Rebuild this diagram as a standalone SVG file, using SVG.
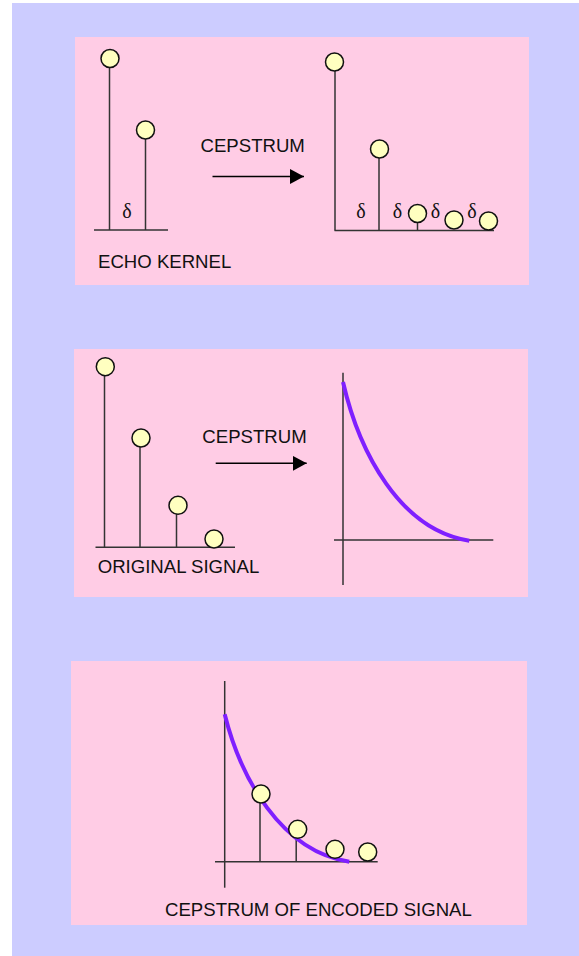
<svg xmlns="http://www.w3.org/2000/svg" width="579" height="956" viewBox="0 0 579 956">
<defs>
<style>
.bg{fill:#CCCCFF}
.panel{fill:#FFCCE5}
.ln{stroke:#333333;stroke-width:1.5;fill:none}
.dot{fill:#FFFFC0;stroke:#111111;stroke-width:1.5}
.curve{stroke:#7F1FFF;stroke-width:4;fill:none;stroke-linecap:butt}
.lbl{font-family:"Liberation Sans",Arial,sans-serif;font-size:18.6px;fill:#111111}
.dl{font-family:"Liberation Serif","Times New Roman",serif;font-size:20px;fill:#111111;text-anchor:middle}
</style>
<marker id="ah" markerUnits="userSpaceOnUse" markerWidth="14" markerHeight="16" refX="14" refY="7.5" orient="auto">
<path d="M0,0 L14,7.5 L0,15 Z" fill="#000000"/>
</marker>
</defs>
<rect x="12" y="3" width="567" height="953" class="bg"/>

<g id="panel-echo">
<rect x="75" y="37" width="454" height="248" class="panel"/>
<g id="echo-kernel">
<line x1="94" y1="230" x2="168" y2="230" class="ln"/>
<line x1="109.5" y1="67" x2="109.5" y2="230" class="ln"/>
<line x1="145.5" y1="139" x2="145.5" y2="230" class="ln"/>
<circle cx="110" cy="58.5" r="9" class="dot"/>
<circle cx="145.5" cy="130" r="9" class="dot"/>
<text x="127" y="218" class="dl">δ</text>
<text x="98" y="268" class="lbl">ECHO KERNEL</text>
</g>
<g id="echo-cepstrum">
<line x1="334.5" y1="230.5" x2="494" y2="230.5" class="ln"/>
<line x1="335" y1="71" x2="335" y2="230.5" class="ln"/>
<line x1="379" y1="158" x2="379" y2="230.5" class="ln"/>
<line x1="417.5" y1="222" x2="417.5" y2="230.5" class="ln"/>
<circle cx="334.5" cy="62" r="9" class="dot"/>
<circle cx="379.5" cy="149" r="9" class="dot"/>
<circle cx="417.5" cy="213.5" r="9" class="dot"/>
<circle cx="454" cy="220" r="9" class="dot"/>
<circle cx="488.5" cy="221" r="9" class="dot"/>
<text x="361" y="218" class="dl">δ</text>
<text x="397.5" y="218" class="dl">δ</text>
<text x="435.5" y="218" class="dl">δ</text>
<text x="472" y="218" class="dl">δ</text>
</g>
<text x="200.5" y="152" class="lbl">CEPSTRUM</text>
</g>

<g id="panel-original">
<rect x="74" y="349" width="454" height="248" class="panel"/>
<g id="original-signal">
<line x1="95.5" y1="547.3" x2="235" y2="547.3" class="ln"/>
<line x1="104.5" y1="376" x2="104.5" y2="547.3" class="ln"/>
<line x1="140" y1="447" x2="140" y2="547.3" class="ln"/>
<line x1="176.5" y1="514" x2="176.5" y2="547.3" class="ln"/>
<circle cx="105.3" cy="366.7" r="9" class="dot"/>
<circle cx="141" cy="438" r="9" class="dot"/>
<circle cx="178" cy="505.3" r="9" class="dot"/>
<circle cx="214" cy="539" r="9" class="dot"/>
<text x="97.7" y="573.3" class="lbl">ORIGINAL SIGNAL</text>
</g>
<g id="original-cepstrum">
<line x1="343" y1="372.7" x2="343" y2="585" class="ln"/>
<line x1="334" y1="540" x2="493.3" y2="540" class="ln"/>
<path d="M343,382 C359,452 400,530 469.3,540.7" class="curve"/>
</g>
<text x="202.3" y="442.7" class="lbl">CEPSTRUM</text>
</g>

<g id="panel-encoded">
<rect x="71" y="661" width="456" height="264" class="panel"/>
<line x1="224.7" y1="681" x2="224.7" y2="887.7" class="ln"/>
<line x1="215" y1="861.7" x2="377.7" y2="861.7" class="ln"/>
<line x1="260" y1="803" x2="260" y2="861.7" class="ln"/>
<line x1="296.2" y1="838" x2="296.2" y2="861.7" class="ln"/>
<path d="M224.7,714.3 C240.5,777.7 280.7,851.3 349.3,861.7" class="curve"/>
<circle cx="261" cy="794" r="9" class="dot"/>
<circle cx="297.7" cy="829.3" r="9" class="dot"/>
<circle cx="335" cy="849.3" r="9" class="dot"/>
<circle cx="367.7" cy="852" r="9" class="dot"/>
<text x="165" y="915.7" class="lbl">CEPSTRUM OF ENCODED SIGNAL</text>
</g>

<g id="connectors">
<line x1="212.5" y1="176.5" x2="304" y2="176.5" stroke="#000000" stroke-width="1.5" marker-end="url(#ah)"/>
<line x1="215.7" y1="463.3" x2="306.7" y2="463.3" stroke="#000000" stroke-width="1.5" marker-end="url(#ah)"/>
</g>
</svg>
